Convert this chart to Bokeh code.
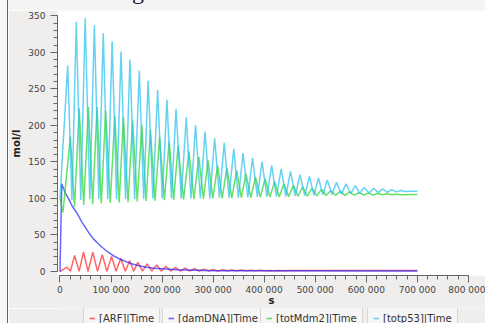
from bokeh.plotting import figure
from bokeh.layouts import column, row
from bokeh.models import (Range1d, ColumnDataSource, FixedTicker, Legend,
                          LegendItem, Div)
from bokeh.embed import file_html
from bokeh.resources import INLINE

# ---- time courses (time in s, concentration in mol/l) ----
arf_time = [0, 13940, 20500, 28650, 37500, 46080, 55000, 64280, 73500, 82870,
            92000, 101070, 110000, 119070, 128000, 136500, 144500, 152570, 161500, 170770,
            180000, 189350, 198500, 207550, 217000, 226910, 236000, 244920, 254000, 263310,
            272500, 281700, 291000, 300100, 309300, 318500, 327700, 336900, 346100, 355300,
            364500, 373700, 382900, 392100, 401300, 410500, 419700, 428800, 438000, 450000,
            700000]
arf_val = [0, 6, 0.3, 22, 0.2, 26.4, 0.2, 26.4, 0.2, 23,
           0.2, 20.5, 0.3, 18, 0.3, 15, 0.4, 12.7, 0.4, 10.5,
           0.5, 9, 0.5, 7.3, 0.6, 5.5, 0.6, 4.6, 0.7, 4,
           0.7, 3.3, 0.8, 2.8, 0.8, 2.4, 0.9, 2.1, 0.9, 1.9,
           1.0, 1.7, 1.0, 1.6, 1.1, 1.5, 1.1, 1.4, 1.2, 1.3,
           1.3]

damdna_time = [0, 3500, 10650, 17000, 23600, 33300, 43000, 55800, 65400, 75100,
               81700, 94500, 107400, 120400, 136500, 152600, 168800, 184900, 230000, 300000,
               400000, 700000]
damdna_val = [0, 120, 107, 99.5, 90, 79.8, 67.5, 53.8, 44.7, 38,
              33.5, 26.4, 20.5, 16, 11.4, 8.2, 5.9, 4.5, 2.3, 1.2,
              0.9, 0.8]

mdm2_time = [0, 5800, 20330, 28500, 37750, 46500, 55760, 64000, 72600, 81000,
             89450, 98500, 107450, 116000, 124300, 133300, 142300, 151300, 160300, 168700,
             177150, 186200, 195160, 204500, 213940, 222700, 231370, 242000, 252660, 262300,
             272020, 281000, 290030, 299400, 308810, 317800, 326820, 336500, 346180, 355300,
             364380, 373700, 382970, 392400, 401750, 411100, 420530, 429500, 438540, 447900,
             457310, 466300, 475320, 484500, 493700, 502900, 512100, 521300, 530500, 539700,
             548900, 558100, 567300, 576500, 585700, 594900, 604100, 613300, 622500, 631700,
             640900, 650100, 659300, 668500, 700000]
mdm2_val = [100, 81, 184.7, 89, 223, 91, 225, 92, 225, 93,
            220, 94, 213, 94.5, 211, 95, 206.6, 96, 200, 96.5,
            194, 97, 184, 97.5, 178, 98, 172, 98.5, 164.6, 99,
            157, 99.5, 152, 100, 145, 100, 142, 100.5, 138, 101,
            133.6, 101, 129, 101.5, 127, 102, 123, 102, 120, 102.5,
            117.6, 103, 116, 103, 114, 103.5, 112.5, 104, 111, 104,
            110, 104.2, 109, 104.5, 108, 104.7, 107.3, 104.8, 106.8, 105,
            106.3, 105, 105.8, 105.2, 105.3]

p53_time = [0, 15100, 23500, 31950, 40700, 49400, 58400, 67400, 76100, 84800,
            93500, 102200, 110900, 119650, 128400, 137100, 146200, 155300, 164000, 172700,
            182000, 191300, 200400, 209500, 218400, 227300, 237400, 247400, 256500, 265600,
            274900, 284200, 293600, 303000, 312400, 321800, 331100, 340400, 349500, 358600,
            367900, 377200, 386600, 395900, 405300, 414700, 424000, 433300, 442400, 451500,
            460800, 470100, 479400, 488700, 497500, 506300, 515000, 523700, 532700, 541700,
            551100, 560500, 569500, 578500, 587200, 595900, 605300, 614700, 623400, 632200,
            640900, 649600, 658600, 667600, 676000, 685000, 700000]
p53_val = [100, 282, 98, 342, 98, 347, 99, 337, 99, 326,
           99, 315, 99, 301, 99, 290, 99, 275, 99, 261,
           100, 248.5, 100, 235, 100, 222.6, 100, 211, 100, 200.6,
           100, 191.5, 100, 182.4, 101, 176, 101, 168, 101, 162,
           101.5, 155.5, 102, 150.5, 102, 145, 102.5, 140.5, 103, 137,
           103.5, 132.7, 104, 130, 104.5, 128, 105, 125.4, 105.5, 122,
           106, 120, 106.5, 117.6, 107, 115, 107.5, 114, 108, 113,
           108.5, 112, 109, 111, 109.5, 110, 110]

series_labels = ["[ARF]|Time", "[damDNA]|Time", "[totMdm2]|Time", "[totp53]|Time"]
series_colors = ["#ff2a2a", "#2a2aff", "#2ad62a", "#2ac0f0"]

x_ticks = [0, 100000, 200000, 300000, 400000, 500000, 600000, 700000, 800000]
x_tick_labels = ["0", "100 000", "200 000", "300 000", "400 000",
                 "500 000", "600 000", "700 000", "800 000"]
y_ticks = [0, 50, 100, 150, 200, 250, 300, 350]

FONT = "DejaVu Sans"
BG = "#efeeec"
LINE_W = 1.5
LINE_A = 0.72

# ---- main plot ----
p = figure(width=477, height=298,
           x_range=Range1d(-4840, 833500), y_range=Range1d(-5.47, 355.9),
           output_backend="svg", toolbar_location=None,
           min_border_left=44, min_border_right=0,
           min_border_top=1, min_border_bottom=33,
           background_fill_color="white", border_fill_color=BG,
           outline_line_color=None)
p.xgrid.visible = False
p.ygrid.visible = False

for t, v, c in [(arf_time, arf_val, series_colors[0]),
                (damdna_time, damdna_val, series_colors[1]),
                (mdm2_time, mdm2_val, series_colors[2]),
                (p53_time, p53_val, series_colors[3])]:
    src = ColumnDataSource(dict(t=t, v=v))
    p.line("t", "v", source=src, line_color=c, line_width=LINE_W, line_alpha=LINE_A)

for ax in (p.xaxis[0], p.yaxis[0]):
    ax.axis_line_color = "#666666"
    ax.major_tick_line_color = "#666666"
    ax.minor_tick_line_color = "#666666"
    ax.major_tick_in = 0
    ax.major_tick_out = 7
    ax.minor_tick_in = 0
    ax.minor_tick_out = 4
    ax.major_label_text_font = FONT
    ax.major_label_text_font_size = "9px"
    ax.major_label_text_color = "#444444"
    ax.axis_label_text_font = FONT
    ax.axis_label_text_font_size = "10px"
    ax.axis_label_text_font_style = "bold"
    ax.axis_label_text_color = "#222222"

xa = p.xaxis[0]
xa.ticker = FixedTicker(ticks=x_ticks, minor_ticks=list(range(0, 800001, 20000)))
xa.major_label_overrides = {t: s for t, s in zip(x_ticks, x_tick_labels)}
xa.bounds = (0, 800000)
xa.axis_label = "s"
xa.major_label_standoff = 2
xa.axis_label_standoff = -3

ya = p.yaxis[0]
ya.ticker = FixedTicker(ticks=y_ticks, minor_ticks=list(range(0, 351, 10)))
ya.bounds = (0, 350)
ya.axis_label = "mol/l"
ya.major_label_standoff = 5
ya.axis_label_standoff = 3

# ---- legend strip: one framed box per curve ----
leg = figure(width=477, height=15, x_range=Range1d(0, 1), y_range=Range1d(0, 1),
             output_backend="svg", toolbar_location=None,
             x_axis_location=None, y_axis_location=None,
             min_border=0, min_border_left=0, min_border_right=0,
             min_border_top=0, min_border_bottom=0,
             background_fill_color=BG, border_fill_color=BG,
             outline_line_color=None)
leg.xgrid.visible = False
leg.ygrid.visible = False

legend_x = [26, 105, 203, 310]
for lab, col, lx in zip(series_labels, series_colors, legend_x):
    # key glyph only; its single point lies outside the strip's range
    key = leg.line(x=[5], y=[5], line_color=col, line_width=LINE_W, line_alpha=LINE_A)
    lg = Legend(items=[LegendItem(label=lab, renderers=[key])],
                location=(lx, -7), orientation="horizontal",
                glyph_width=6, glyph_height=12, label_height=12,
                label_standoff=4, padding=5, margin=0, spacing=0,
                label_text_font=FONT, label_text_font_size="10px",
                label_text_color="#333333",
                border_line_color="#b4b4b4", border_line_width=1,
                background_fill_color="#f6f6f6", background_fill_alpha=1.0)
    leg.add_layout(lg, "center")

# ---- window chrome: strip above the plot and the left edge ----
top = Div(width=477, height=10, margin=0,
          text='<div style="position:relative; left:92px; top:-23px; '
               'font-family:\'Liberation Serif\'; font-size:24px; '
               'color:#1a1a1a; line-height:28px; white-space:nowrap">rouge.</div>',
          styles={"overflow": "hidden", "background-color": "#f4f4f4"})
edge = Div(width=8, height=323, margin=0, text="",
           styles={"background-color": "#f7f7f7", "box-sizing": "border-box",
                   "border-right": "1.5px solid #6e605a"})

page = row(edge, column(top, p, leg, spacing=0), spacing=0)

open("out.html", "w").write(file_html(page, INLINE))
